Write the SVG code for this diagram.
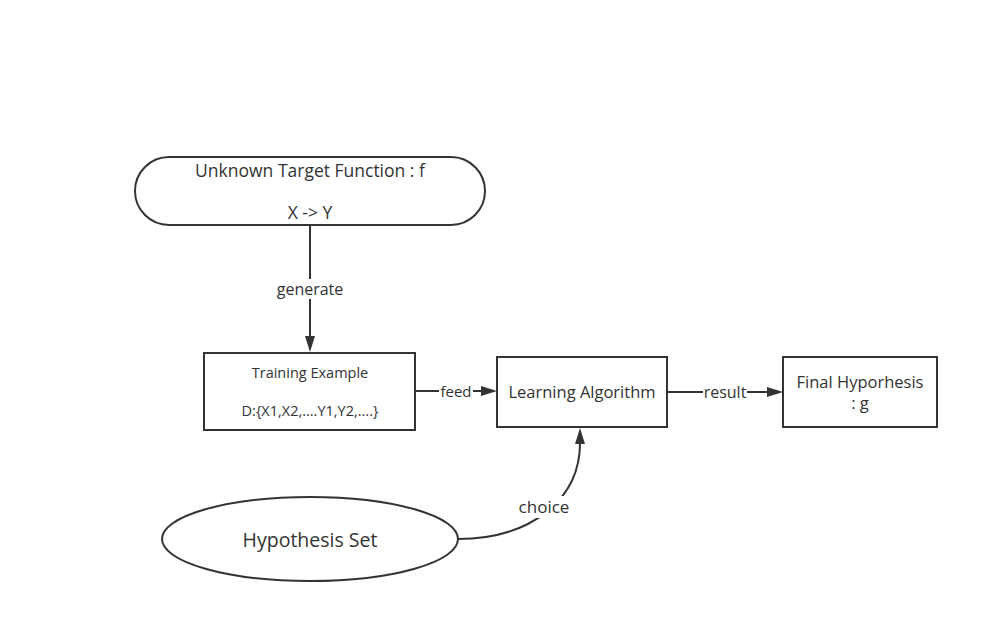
<svg xmlns="http://www.w3.org/2000/svg" width="998" height="643" viewBox="0 0 998 643">
<style>
.s{fill:#fff;stroke:#333;stroke-width:2}
.t{font-family:"Open Sans","Noto Sans","DejaVu Sans",sans-serif;fill:#333;text-anchor:middle}
.c{fill:none;stroke:#333;stroke-width:2}
.h{fill:#333}
.lb{fill:#fff}
</style>
<rect width="998" height="643" fill="#fff"/>
<g id="connectors">
<path class="c" d="M310 225 V337"/><path class="h" d="M305 336 L310 352 L315 336 Z"/>
<rect class="lb" x="274" y="279" width="72" height="20"/>
<text class="t" x="310" y="295" font-size="16">generate</text>
<path class="c" d="M415 391 H482"/><path class="h" d="M481 386 L497 391 L481 396 Z"/>
<rect class="lb" x="439" y="381" width="34" height="20"/>
<text class="t" x="456" y="397" font-size="15">feed</text>
<path class="c" d="M667 392 H768"/><path class="h" d="M767 387 L783 392 L767 397 Z"/>
<rect class="lb" x="703" y="382" width="44" height="20"/>
<text class="t" x="725" y="398" font-size="16">result</text>
<path class="c" d="M458 539 C530 539 580 500 580 443"/><path class="h" d="M575 444 L580 428 L585 444 Z"/>
<rect class="lb" x="516" y="496" width="56" height="22"/>
<text class="t" x="544" y="513" font-size="17">choice</text>
</g>
<g id="target">
<rect class="s" x="135" y="157" width="350" height="68" rx="34" ry="34"/>
<text class="t" x="310" y="177" font-size="17.5">Unknown Target Function : f</text>
<text class="t" x="310" y="219" font-size="17.5">X -&gt; Y</text>
</g>
<g id="training">
<rect class="s" x="204" y="353" width="211" height="77"/>
<text class="t" x="310" y="378" font-size="14.5">Training Example</text>
<text class="t" x="310" y="416" font-size="14.5">D:{X1,X2,....Y1,Y2,....}</text>
</g>
<g id="learning">
<rect class="s" x="497" y="357" width="170" height="70"/>
<text class="t" x="582" y="398" font-size="16.5">Learning Algorithm</text>
</g>
<g id="final">
<rect class="s" x="783" y="357" width="154" height="70"/>
<text class="t" x="860" y="388" font-size="16.5">Final Hyporhesis</text>
<text class="t" x="860" y="409" font-size="16.5">: g</text>
</g>
<g id="hypothesis">
<ellipse class="s" cx="310" cy="539" rx="148" ry="42"/>
<text class="t" x="310" y="547" font-size="19.5">Hypothesis Set</text>
</g>
</svg>
